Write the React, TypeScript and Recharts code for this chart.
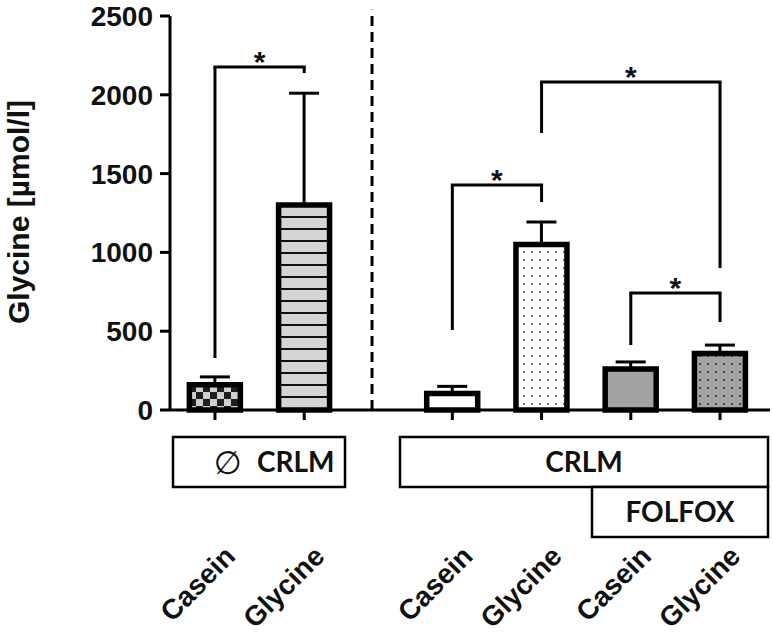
import React from 'react';
import { BarChart, Bar, XAxis, YAxis, Cell, ErrorBar, ReferenceLine, ReferenceDot } from 'recharts';

// ---- data ----
const groups = ['Casein', 'Glycine', 'Casein', 'Glycine', 'Casein', 'Glycine'];
const slots = [0, 1, 2.66, 3.66, 4.66, 5.66];
const means = [160, 1300, 105, 1050, 260, 358];
const sdUpper = [50, 710, 45, 143, 45, 54];
const yTicks = [0, 500, 1000, 1500, 2000, 2500];

// significance brackets (indices of bars, y levels in µmol/l)
const bracketFrom = [0, 3, 2, 4];
const bracketTo = [1, 5, 3, 5];
const bracketTop = [2176, 2081, 1428, 742];
const bracketLeftEnd = [330, 1758, 508, 412];
const bracketRightEnd = [2138, 901, 1320, 558];
const separatorAt = 1.76;

const data = groups.map((g, i) => ({
  name: g,
  slot: slots[i],
  mean: means[i],
  err: [0, sdUpper[i]],
}));

const fills = [
  'url(#checker)',
  'url(#hlines)',
  '#ffffff',
  'url(#dotsWhite)',
  '#a3a3a3',
  'url(#dotsGray)',
];

const FONT = '"Liberation Sans", Arial, sans-serif';

const XTick = (props: any) => {
  const { x, y, payload } = props;
  const i = slots.indexOf(payload.value);
  return (
    <g>
      <line x1={x} x2={x} y1={y} y2={y + 10} stroke="#000" strokeWidth={3} />
      <text
        transform={`translate(${x + 22},${y + 148}) rotate(-45)`}
        textAnchor="end"
        fontFamily={FONT}
        fontWeight="bold"
        fontSize={28}
        fill="#111"
      >
        {groups[i]}
      </text>
    </g>
  );
};

const Star = (p: any) => (
  <text
    x={p.cx}
    y={p.cy + 5}
    textAnchor="middle"
    fontFamily={FONT}
    fontWeight="bold"
    fontSize={30}
    fill="#111"
  >
    *
  </text>
);

export default function App() {
  return (
    <div style={{ position: 'absolute', left: 0, top: 0, width: 773, height: 637, background: '#fff' }}>
      <BarChart width={773} height={637} data={data} margin={{ top: 16, right: 3, bottom: 0, left: 0 }}>
        <defs>
          <pattern id="checker" patternUnits="userSpaceOnUse" width={14} height={14}>
            <rect width={14} height={14} fill="#cfcfcf" />
            <rect x={0} y={0} width={7} height={7} fill="#1e1e1e" />
            <rect x={7} y={7} width={7} height={7} fill="#1e1e1e" />
          </pattern>
          <pattern id="hlines" patternUnits="userSpaceOnUse" width={10} height={12}>
            <rect width={10} height={12} fill="#d4d4d4" />
            <rect x={0} y={0} width={10} height={2} fill="#111" />
          </pattern>
          <pattern id="dotsWhite" patternUnits="userSpaceOnUse" width={8} height={8}>
            <rect width={8} height={8} fill="#ffffff" />
            <circle cx={4} cy={4} r={1.1} fill="#555" />
          </pattern>
          <pattern id="dotsGray" patternUnits="userSpaceOnUse" width={8} height={8}>
            <rect width={8} height={8} fill="#a3a3a3" />
            <circle cx={4} cy={4} r={1.1} fill="#333" />
          </pattern>
        </defs>
        <XAxis
          type="number"
          dataKey="slot"
          domain={[-0.504, 6.22]}
          ticks={slots}
          allowDataOverflow
          interval={0}
          height={227}
          axisLine={{ stroke: '#000', strokeWidth: 3 }}
          tickLine={false}
          tickSize={0}
          tickMargin={0}
          tick={<XTick />}
        />
        <YAxis
          type="number"
          domain={[0, 2500]}
          ticks={yTicks}
          interval={0}
          width={170}
          axisLine={{ stroke: '#000', strokeWidth: 3 }}
          tickLine={{ stroke: '#000', strokeWidth: 3 }}
          tickSize={10}
          tickMargin={7}
          tick={{ fontFamily: FONT, fontWeight: 'bold', fontSize: 28, fill: '#111' }}
        />
        <ReferenceLine
          segment={[{ x: separatorAt, y: 0 }, { x: separatorAt, y: 2540 }]}
          stroke="#000"
          strokeWidth={3}
          strokeDasharray="10 6"
          ifOverflow="visible"
        />
        <Bar dataKey="mean" barSize={51} stroke="#000" strokeWidth={5.5} isAnimationActive={false}>
          {data.map((d, i) => (
            <Cell key={i} fill={fills[i]} />
          ))}
          <ErrorBar dataKey="err" direction="y" width={15} stroke="#000" strokeWidth={3} isAnimationActive={false} />
        </Bar>
        {bracketFrom.map((a, k) => {
          const b = bracketTo[k];
          return (
            <React.Fragment key={'br' + k}>
              <ReferenceLine
                segment={[{ x: slots[a], y: bracketTop[k] }, { x: slots[b], y: bracketTop[k] }]}
                stroke="#000"
                strokeWidth={3}
                strokeLinecap="square"
                ifOverflow="visible"
              />
              <ReferenceLine
                segment={[{ x: slots[a], y: bracketTop[k] }, { x: slots[a], y: bracketLeftEnd[k] }]}
                stroke="#000"
                strokeWidth={3}
                ifOverflow="visible"
              />
              <ReferenceLine
                segment={[{ x: slots[b], y: bracketTop[k] }, { x: slots[b], y: bracketRightEnd[k] }]}
                stroke="#000"
                strokeWidth={3}
                ifOverflow="visible"
              />
              <ReferenceDot
                x={(slots[a] + slots[b]) / 2}
                y={bracketTop[k]}
                r={0}
                ifOverflow="visible"
                shape={<Star />}
              />
            </React.Fragment>
          );
        })}
      </BarChart>
      <svg
        width={773}
        height={637}
        style={{ position: 'absolute', left: 0, top: 0, pointerEvents: 'none' }}
      >
        <text
          transform="translate(29,212) rotate(-90)"
          textAnchor="middle"
          fontFamily={FONT}
          fontWeight="bold"
          fontSize={30}
          fill="#111"
        >
          Glycine [µmol/l]
        </text>
        <rect x={173} y={437} width={172} height={50} fill="#fff" stroke="#000" strokeWidth={2.5} />
        <rect x={400} y={437} width={368} height={50} fill="#fff" stroke="#000" strokeWidth={2.5} />
        <rect x={592} y={487} width={176} height={50} fill="#fff" stroke="#000" strokeWidth={2.5} />
        <text x={228} y={474} textAnchor="middle" fontFamily='"DejaVu Sans", sans-serif' fontSize={32} fill="#111">
          ∅
        </text>
        <text x={257} y={472} textAnchor="start" fontFamily="Lato, sans-serif" fontWeight="bold" fontSize={28} fill="#111">
          CRLM
        </text>
        <text x={584} y={472} textAnchor="middle" fontFamily="Lato, sans-serif" fontWeight="bold" fontSize={28} fill="#111">
          CRLM
        </text>
        <text x={680} y={522} textAnchor="middle" fontFamily="Lato, sans-serif" fontWeight="bold" fontSize={28} fill="#111">
          FOLFOX
        </text>
      </svg>
    </div>
  );
}
